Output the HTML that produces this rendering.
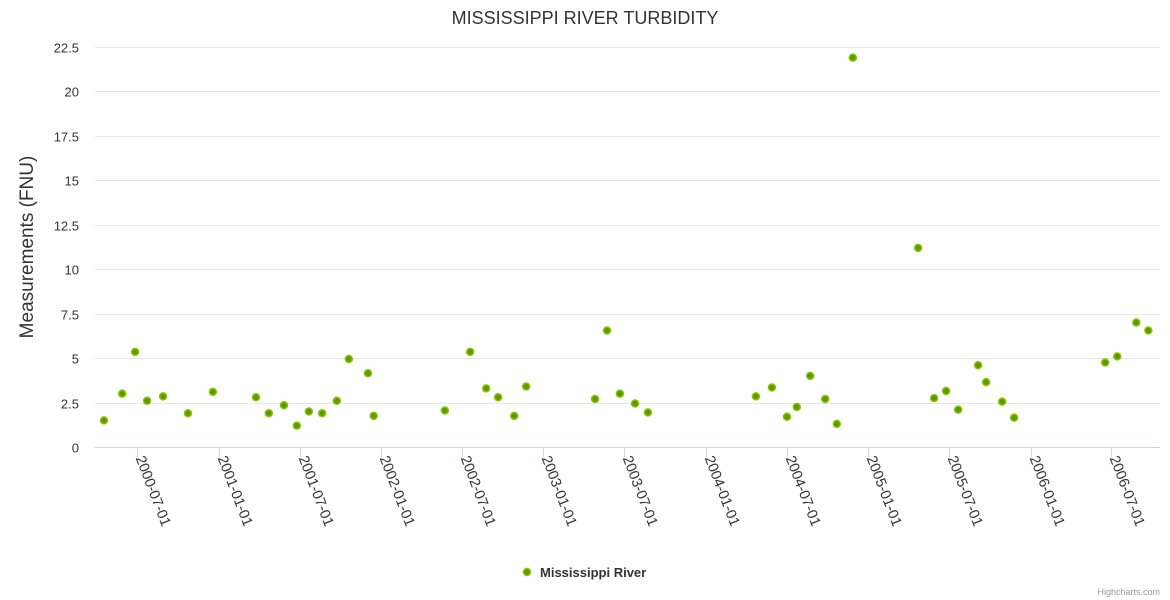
<!DOCTYPE html>
<html><head><meta charset="utf-8"><style>
body{margin:0;background:#fff;}
svg{display:block;font-family:"Liberation Sans","DejaVu Sans",sans-serif;}
</style></head><body>
<svg id="chart" width="1170" height="600">
<rect width="1170" height="600" fill="#fff"/>
<text x="585" y="24" text-anchor="middle" font-size="18" fill="#333">MISSISSIPPI RIVER TURBIDITY</text>
<text transform="translate(33,247) rotate(-90)" text-anchor="middle" font-size="19" fill="#333">Measurements (FNU)</text>
<g id="grid"></g><g id="xaxis"></g><g id="points"></g>
<g>
<circle cx="527" cy="572" r="3.5" fill="#5a9a00" stroke="#8cc400" stroke-width="1.5"/>
<text x="540" y="577" font-size="13" font-weight="bold" fill="#333">Mississippi River</text>
</g>
<text x="1160" y="595" text-anchor="end" font-size="9" fill="#999">Highcharts.com</text>
</svg>
<script>
const yTicks = [0,2.5,5,7.5,10,12.5,15,17.5,20,22.5];
const yTickLabels = ["0","2.5","5","7.5","10","12.5","15","17.5","20","22.5"];
const xTicks = ["2000-07-01","2001-01-01","2001-07-01","2002-01-01","2002-07-01","2003-01-01","2003-07-01","2004-01-01","2004-07-01","2005-01-01","2005-07-01","2006-01-01","2006-07-01"];
const dates = ["2000-04-17","2000-05-28","2000-06-26","2000-07-23","2000-08-28","2000-10-23","2000-12-18","2001-03-25","2001-04-23","2001-05-27","2001-06-25","2001-07-22","2001-08-21","2001-09-23","2001-10-20","2001-12-02","2001-12-15","2002-05-24","2002-07-20","2002-08-25","2002-09-21","2002-10-27","2002-11-23","2003-04-27","2003-05-24","2003-06-22","2003-07-26","2003-08-24","2004-04-23","2004-05-29","2004-07-02","2004-07-24","2004-08-23","2004-09-26","2004-10-22","2004-11-27","2005-04-23","2005-05-29","2005-06-25","2005-07-22","2005-09-05","2005-09-23","2005-10-29","2005-11-25","2006-06-18","2006-07-15","2006-08-27","2006-09-23"];
const values = [1.5,3.0,5.35,2.6,2.85,1.9,3.1,2.8,1.9,2.35,1.2,2.0,1.9,2.6,4.95,4.15,1.75,2.05,5.35,3.3,2.8,1.75,3.4,2.7,6.55,3.0,2.45,1.95,2.85,3.35,1.7,2.25,4.0,2.7,1.3,21.9,11.2,2.75,3.15,2.1,4.6,3.65,2.55,1.65,4.75,5.1,7.0,6.55];

const NS="http://www.w3.org/2000/svg";
const left=95,right=1160,y0=447,yTop=47,yMax=22.5;
const t0=Date.parse("2000-07-01"),t1=Date.parse("2006-07-01");
function xs(d){return 137.3+(Date.parse(d)-t0)/(t1-t0)*(1111-137.3);}
function ys(v){return y0-(v/yMax)*(y0-yTop);}
function mk(tag,attrs,parent){const e=document.createElementNS(NS,tag);for(const k in attrs)e.setAttribute(k,attrs[k]);parent.appendChild(e);return e;}
const grid=document.getElementById('grid'),xa=document.getElementById('xaxis'),pts=document.getElementById('points');
yTicks.forEach((v,i)=>{
  const y=Math.round(ys(v))+0.5;
  if(i>0){const l=mk('line',{x1:left,x2:right,y1:y,y2:y,stroke:'#e6e6e6','stroke-width':1},grid);
  
  }
  const t=mk('text',{x:79,y:y+5,'text-anchor':'end','font-size':13,fill:'#333'},grid);
  t.textContent=yTickLabels[i];
  
  
});
const ax=mk('line',{x1:left,x2:right,y1:447.5,y2:447.5,stroke:'#ccd6eb','stroke-width':1},xa);


xTicks.forEach(d=>{
  const x=Math.round(xs(d))+0.5;
  const tk=mk('line',{x1:x,x2:x,y1:447,y2:457,stroke:'#ccd6eb','stroke-width':1},xa);
  
  
  const t=mk('text',{x:0,y:0,'font-size':14.5,fill:'#333',transform:`translate(${x-2},${458}) rotate(69)`},xa);
  t.textContent=d;
  
  
});
dates.forEach((d,i)=>{
  const c=mk('circle',{cx:xs(d),cy:ys(values[i]),r:3.5,fill:'#5a9a00',stroke:'#8cc400','stroke-width':1.5},pts);
  
  
});
</script>
</body></html>
